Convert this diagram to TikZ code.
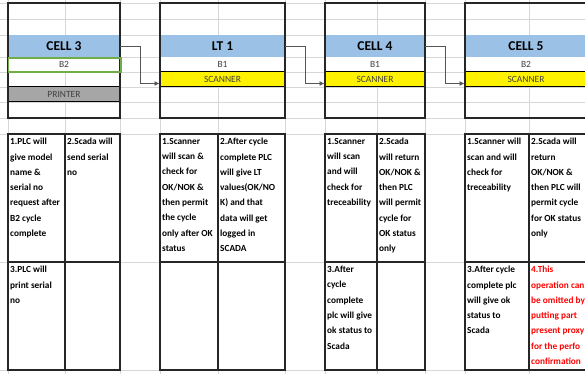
\documentclass[tikz,border=0pt]{standalone}
\usepackage{fontspec}
\setmainfont{Carlito}
\usetikzlibrary{arrows.meta}
\definecolor{hdrblue}{RGB}{155,194,230}
\definecolor{prngray}{RGB}{166,166,166}
\definecolor{cellgreen}{RGB}{112,173,71}
\definecolor{gridgray}{RGB}{215,215,215}
\definecolor{linkgray}{RGB}{85,85,85}

\begin{document}
\begin{tikzpicture}[x=1pt,y=-1pt]
      \clip (0,0) rectangle (585,374);
      \fill[white] (0,0) rectangle (585,374);
      \tikzstyle{hdr} = [fill=hdrblue, minimum height=22pt, inner sep=0pt, font=\bfseries\fontsize{13.5}{14}\selectfont]
      \tikzstyle{sub} = [minimum height=15pt, inner sep=0pt, text=black!75, font=\fontsize{9.5}{10}\selectfont]
      \tikzstyle{scan} = [sub, fill=yellow, draw=black, line width=1pt]
      \tikzstyle{prn} = [sub, fill=prngray, draw=black, line width=1pt]
      \tikzstyle{frame} = [draw=black!85, line width=1.3pt]
      \tikzstyle{note} = [anchor=north west, inner sep=0pt, align=left, font=\bfseries\fontsize{9.3}{15.3}\selectfont]
      \tikzstyle{link} = [draw=linkgray, line width=0.8pt, -{Latex[length=5pt,width=5pt]}]
      % spreadsheet grid
      \foreach \y in {3,19,35,57,72,87,102,118,134,262,370}
        \draw[gridgray, line width=0.6pt] (0,\y) -- (585,\y);
      \foreach \x in {8,65,120,160,218,285,325,377,425,465,529}
        \draw[gridgray, line width=0.6pt] (\x,0) -- (\x,374);
      % CELL 3
      \node[hdr, minimum width=112pt] (h3) at (64,46) {CELL 3};
      \node[sub, fill=white, minimum width=112pt] (b3) at (64,64.5) {B2};
      \node[prn, minimum width=112pt] (p3) at (64,94.5) {PRINTER};
      \draw[frame] (8,3) rectangle (120,118);
      \draw[cellgreen, line width=1.8pt] (8.5,58) rectangle (121,72);
      % LT 1
      \node[hdr, minimum width=125pt] (h1) at (222.5,46) {LT 1};
      \node[sub, fill=white, minimum width=125pt] (b1) at (222.5,64.5) {B1};
      \node[scan, minimum width=125pt] (s1) at (222.5,79.5) {SCANNER};
      \draw[frame] (160,3) rectangle (285,118);
      % CELL 4
      \node[hdr, minimum width=100pt] (h4) at (375,46) {CELL 4};
      \node[sub, fill=white, minimum width=100pt] (b4) at (375,64.5) {B1};
      \node[scan, minimum width=100pt] (s4) at (375,79.5) {SCANNER};
      \draw[frame] (325,3) rectangle (425,118);
      % CELL 5
      \node[hdr, minimum width=122pt] (h5) at (526,46) {CELL 5};
      \node[sub, fill=white, minimum width=122pt] (b5) at (526,64.5) {B2};
      \node[scan, minimum width=122pt] (s5) at (526,79.5) {SCANNER};
      \draw[frame] (465,3) rectangle (587,118);
      % flow
      \draw[link] (h3.east) -- ++(20,0) |- ([yshift=-4pt]s1.west);
      \draw[link] (h1.east) -- ++(20,0) |- ([yshift=-4pt]s4.west);
      \draw[link] (h4.east) -- ++(20,0) |- ([yshift=-4pt]s5.west);
      % step tables
      \draw[frame] (8,134) rectangle (120,370) (65,134) -- (65,370) (8,262) -- (120,262);
      \draw[frame] (160,134) rectangle (285,370) (218,134) -- (218,370) (160,262) -- (285,262);
      \draw[frame] (325,134) rectangle (425,370) (377,134) -- (377,370) (325,262) -- (425,262);
      \draw[frame] (465,134) rectangle (587,370) (529,134) -- (529,370) (465,262) -- (587,262);
      \node[note] (t31) at (10,138) {1.PLC will\\give model\\name \&\\serial no\\request after\\B2 cycle\\complete};
      \node[note] (t32) at (67,138) {2.Scada will\\send serial\\no};
      \node[note] (t33) at (10,266) {3.PLC will\\print serial\\no};
      \node[note] (t11) at (162,138) {1.Scanner\\will scan \&\\check for\\OK/NOK \&\\then permit\\the cycle\\only after OK\\status};
      \node[note] (t12) at (220,138) {2.After cycle\\complete PLC\\will give LT\\values(OK/NO\\K) and that\\data will get\\logged in\\SCADA};
      \node[note] (t41) at (327,138) {1.Scanner\\will scan\\and will\\check for\\treceability};
      \node[note] (t42) at (379,138) {2.Scada\\will return\\OK/NOK \&\\then PLC\\will permit\\cycle for\\OK status\\only};
      \node[note] (t43) at (327,266) {3.After\\cycle\\complete\\plc will give\\ok status to\\Scada};
      \node[note] (t51) at (467,138) {1.Scanner will\\scan and will\\check for\\treceability};
      \node[note] (t52) at (531,138) {2.Scada will\\return\\OK/NOK \&\\then PLC will\\permit cycle\\for OK status\\only};
      \node[note] (t53) at (467,266) {3.After cycle\\complete plc\\will give ok\\status to\\Scada};
      \node[note, text=red] (t54) at (531,266) {4.This\\operation can\\be omitted by\\putting part\\present proxy\\for the perfo\\confirmation};
\end{tikzpicture}
\end{document}
